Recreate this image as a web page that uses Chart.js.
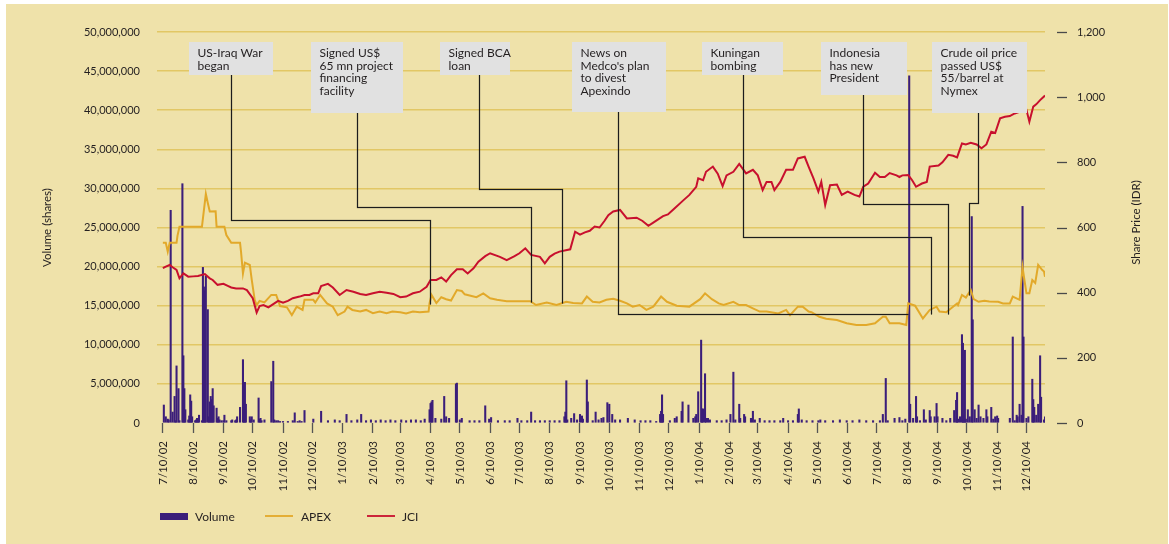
<!DOCTYPE html>
<html>
<head>
<meta charset="utf-8">
<script src="https://cdn.jsdelivr.net/npm/chart.js@4.4.1/dist/chart.umd.min.js"></script>
<style>
html,body{margin:0;padding:0;background:#ffffff;}
#wrap{width:1169px;height:544px;position:relative;}
</style>
</head>
<body>
<div id="wrap"><canvas id="c" width="1169" height="544"></canvas></div>
<script>
// ---- DATA (x = calendar days since 10 Jul 2002) ----
const tickLabels = ['7/10/02','8/10/02','9/10/02','10/10/02','11/10/02','12/10/02',
  '1/10/03','2/10/03','3/10/03','4/10/03','5/10/03','6/10/03','7/10/03','8/10/03','9/10/03','10/10/03','11/10/03','12/10/03',
  '1/10/04','2/10/04','3/10/04','4/10/04','5/10/04','6/10/04','7/10/04','8/10/04','9/10/04','10/10/04','11/10/04','12/10/04'];

const jciDays = [0,3,7,10,14,17,21,26,31,36,43,48,51,56,62,67,70,75,82,86,92,96,99,103,108,113,118,123,128,133,140,145,150,154,159,162,169,174,181,188,195,202,208,215,222,229,236,243,249,256,263,270,274,280,285,290,295,301,307,312,318,323,330,335,345,352,360,365,371,377,386,391,396,401,406,417,422,427,432,437,442,447,452,456,461,468,475,485,491,497,502,512,517,522,533,539,546,548,553,556,563,568,573,577,584,590,597,604,609,614,618,623,626,632,638,645,650,657,661,666,671,674,678,683,690,695,701,708,713,717,722,729,734,739,744,751,754,757,763,767,771,777,782,785,794,798,804,809,813,818,822,827,833,838,843,848,852,857,862,867,872,877,884,887,891,894,898,903];
const jciValues = [475,480,485,478,470,444,459,449,450,451,457,444,439,424,427,420,416,413,413,408,383,339,359,362,355,365,375,369,375,383,388,393,393,398,398,420,427,416,393,408,403,396,393,398,403,400,396,386,388,398,403,418,439,439,447,434,454,472,472,459,475,495,512,521,510,500,512,521,536,516,510,490,510,520,526,533,587,578,585,590,603,600,620,638,649,654,628,630,620,605,615,635,640,654,684,700,725,751,745,771,787,765,727,760,771,795,766,777,760,715,740,740,715,740,777,777,812,817,787,751,710,740,669,730,732,700,710,700,695,725,735,768,755,755,767,760,755,760,761,745,725,735,740,787,790,800,823,820,815,858,855,860,855,843,855,894,890,935,940,942,950,955,961,925,971,978,991,1005];

const apexDays = [0,3,5,7,14,15,17,28,40,44,46,48,54,55,63,65,70,79,80,82,84,89,91,94,96,99,104,111,116,120,127,132,137,143,145,154,156,161,168,174,179,186,189,194,202,208,215,222,229,235,243,249,256,263,272,273,275,280,285,290,295,301,306,309,316,321,328,335,342,352,359,369,376,382,393,403,413,420,429,434,440,447,454,461,468,475,481,488,495,502,510,516,526,539,550,555,562,569,574,584,590,597,604,611,618,630,638,642,650,655,661,664,672,679,690,700,710,720,729,737,740,744,754,761,763,770,778,785,792,795,802,806,813,814,818,822,827,830,835,841,846,855,860,867,870,877,880,884,887,890,893,896,900,902,903];
const apexValues = [553,553,526,553,553,575,602,602,602,703,675,649,650,602,602,577,553,553,526,459,492,485,439,378,362,375,370,393,393,359,355,331,357,347,378,378,370,393,367,357,331,342,357,347,342,347,337,342,337,342,340,336,342,340,342,368,393,368,386,380,376,408,405,395,390,386,398,383,378,374,374,374,374,362,370,362,372,368,367,388,372,370,378,381,375,367,357,362,347,357,388,372,360,357,380,398,380,367,362,372,362,362,352,342,342,336,347,331,357,357,342,340,326,320,316,306,301,301,306,326,326,306,306,301,367,360,321,347,357,342,340,350,367,362,393,385,408,380,372,375,373,372,367,367,388,378,478,398,398,439,430,485,470,465,449];

const volumeDays = [1,3,5,6,8,10,12,13,14,16,17,20,21,22,23,26,27,28,29,30,33,34,35,36,37,40,41,42,43,44,46,47,48,49,50,51,52,55,56,57,58,60,62,63,65,70,71,74,75,76,79,82,83,84,85,89,90,91,93,98,99,100,101,104,111,113,114,116,118,120,123,128,133,135,138,140,142,145,154,162,169,176,181,188,193,199,203,208,213,218,223,228,233,238,244,249,254,259,264,268,273,274,275,276,279,285,288,290,293,300,301,304,306,314,319,324,330,334,336,343,350,355,363,367,373,377,381,386,391,396,401,406,411,412,413,414,418,421,424,427,429,430,434,435,440,443,446,449,451,455,457,460,463,468,476,483,489,494,499,505,509,510,511,512,519,524,526,531,532,538,543,545,546,548,551,552,553,555,556,558,560,567,572,577,581,584,586,590,591,595,596,602,604,606,611,616,621,626,632,635,640,645,650,651,654,659,665,671,673,678,686,693,700,706,713,720,727,734,737,740,742,749,754,757,760,764,765,768,771,772,775,779,781,785,786,790,792,793,798,802,806,810,812,813,814,816,818,819,820,821,822,824,826,828,829,831,833,835,837,840,843,844,848,850,852,854,855,867,870,872,874,875,877,879,880,881,884,886,890,891,892,894,896,898,899,902,903];
const volumeMillions = [2.3,0.8,0.5,0.4,27.2,1.4,3.4,0.3,7.3,4.4,0.3,30.6,8.6,4.4,1.7,0.4,0.9,3.6,2.8,0.8,0.3,0.4,0.6,0.3,1.0,0.3,19.9,17.4,16.9,18.8,14.5,0.8,2.7,3.4,3.0,4.4,2.2,1.9,0.6,0.8,0.4,0.3,0.3,1.0,0.3,0.3,0.4,0.3,0.4,0.8,2.0,8.1,2.4,5.2,2.4,0.8,0.4,0.8,0.4,3.2,0.5,0.6,0.3,0.4,5.3,7.9,0.4,0.3,0.3,0.2,0.2,0.2,0.3,1.3,0.2,0.3,0.2,1.6,0.5,1.5,0.3,0.4,0.3,1.1,0.3,0.4,1.1,0.3,0.4,0.3,0.4,0.3,0.4,0.3,0.4,0.3,0.4,0.4,0.3,0.5,1.7,2.5,2.7,2.9,0.6,0.5,3.4,0.8,0.6,5.0,5.1,0.4,0.6,0.3,0.3,0.3,2.2,0.5,0.7,0.3,0.3,0.3,0.6,0.3,0.3,1.4,0.3,0.3,0.3,0.3,0.3,0.3,0.8,1.4,5.4,0.4,0.6,1.2,0.4,1.1,0.9,0.5,5.5,2.7,0.3,1.4,0.4,0.6,0.7,2.6,2.4,1.1,0.4,0.4,0.6,0.4,0.3,0.3,0.3,0.2,1.1,1.5,3.6,1.1,0.3,0.6,0.8,1.5,2.7,2.3,0.6,0.8,1.1,4.0,10.6,1.8,1.8,6.3,0.6,0.6,0.4,0.3,0.3,0.4,1.1,6.5,0.4,2.4,0.6,1.1,0.8,0.6,1.5,0.4,0.6,0.3,0.3,0.3,0.3,0.6,0.3,0.3,1.1,1.8,0.4,0.3,0.3,0.3,0.4,0.3,0.3,0.4,0.3,0.3,0.4,0.3,0.3,0.3,1.1,5.7,0.3,0.6,0.7,0.3,0.5,44.4,2.4,0.6,3.4,0.8,0.3,1.7,0.4,1.6,0.8,0.8,2.5,0.8,0.6,0.3,0.6,1.6,2.9,3.9,0.5,0.8,11.3,10.2,1.0,9.3,0.5,1.7,0.8,26.4,13.2,1.7,0.6,2.3,0.8,0.6,1.7,0.8,2.0,0.5,0.8,0.9,0.6,0.6,11.0,0.3,1.0,0.8,2.4,1.0,27.7,11.0,0.6,0.8,5.6,3.0,2.0,1.0,2.4,8.6,3.3,0.4,0.8];

// Event call-outs: text, box (layout, px), connector path in [day, share price]
const events = [
  {text:['US-Iraq War','began'], box:[189,42,84,33], path:[[70,623],[273,623],[273,365]]},
  {text:['Signed US$','65 mn project','financing','facility'], box:[311,42,92,71], path:[[199,663],[377,663],[377,371]]},
  {text:['Signed BCA','loan'], box:[440,42,70,33], path:[[324,718],[409,718],[409,368]]},
  {text:['News on',"Medco's plan",'to divest','Apexindo'], box:[572,42,94,70], path:[[466,335],[763,335]]},
  {text:['Kuningan','bombing'], box:[702,42,81,33], path:[[594,572],[786,572],[786,335]]},
  {text:['Indonesia','has new','President'], box:[821,42,86,53], path:[[717,672],[804,672],[804,335]]},
  {text:['Crude oil price','passed US$','55/barrel at','Nymex'], box:[932,42,95,71], path:[[834,674],[825,674],[825,393]]}
];

// ---- derived ----
const baseDate = Date.UTC(2002,6,10);
const tickDays = tickLabels.map(s => { const [m,d,y] = s.split('/').map(Number); return Math.round((Date.UTC(2000+y,m-1,d)-baseDate)/864e5); });
const pts = (xs, ys) => xs.map((x,i) => ({x:x, y:ys[i]}));

const BG = '#EFE2AA', GRID = '#E2C765', INK = '#231F20';
const C_VOL = '#3B1E7A', C_APEX = '#E2A92A', C_JCI = '#C8102E';
const CLEAR = 'rgba(0,0,0,0)';
Chart.defaults.font.family = 'Lato, "Open Sans", sans-serif';
Chart.defaults.color = INK;

const decor = {
  id: 'decor',
  beforeDraw(chart) {
    const ctx = chart.ctx;
    ctx.save();
    ctx.fillStyle = '#ffffff';
    ctx.fillRect(0,0,chart.width,chart.height);
    ctx.fillStyle = BG;
    ctx.fillRect(6,4,1162,540);
    ctx.restore();
  },
  afterDatasetsDraw(chart) {
    const ctx = chart.ctx, xs = chart.scales.x, ys = chart.scales.y1;
    ctx.save();
    // connectors
    events.forEach(ev => {
      const [bx,by,bw,bh] = ev.box;
      ctx.beginPath();
      ctx.moveTo(Math.round(xs.getPixelForValue(ev.path[0][0]))+0.5, by+bh);
      ev.path.forEach(p => ctx.lineTo(Math.round(xs.getPixelForValue(p[0]))+0.5, Math.round(ys.getPixelForValue(p[1]))+0.5));
      ctx.lineJoin = 'miter';
      ctx.strokeStyle = 'rgba(60,60,60,0.55)';
      ctx.lineWidth = 1.3;
      ctx.save(); ctx.translate(1,1); ctx.stroke(); ctx.restore();
      ctx.strokeStyle = '#1c1c1c';
      ctx.lineWidth = 1.1;
      ctx.stroke();
    });
    // boxes + text
    events.forEach(ev => {
      const [bx,by,bw,bh] = ev.box;
      ctx.fillStyle = '#E1E1E1';
      ctx.fillRect(bx,by,bw,bh);
      ctx.fillStyle = INK;
      ctx.font = '12px Lato';
      ctx.textAlign = 'left';
      ctx.textBaseline = 'alphabetic';
      ev.text.forEach((t,i) => ctx.fillText(t, bx+8.5, by+15 + i*12.7));
    });
    // right axis tick dashes
    ctx.strokeStyle = '#4a4a4a';
    ctx.lineWidth = 1.3;
    ys.ticks.forEach(t => {
      const y = Math.round(ys.getPixelForValue(t.value)) + 0.5;
      ctx.beginPath(); ctx.moveTo(1057,y); ctx.lineTo(1067,y); ctx.stroke();
    });
    // right axis title (reads bottom-to-top)
    ctx.save();
    ctx.translate(1136, (chart.chartArea.top+chart.chartArea.bottom)/2 - 5);
    ctx.rotate(-Math.PI/2);
    ctx.font = '11.5px Lato';
    ctx.fillStyle = INK;
    ctx.textAlign = 'center';
    ctx.textBaseline = 'middle';
    ctx.fillText('Share Price (IDR)', 0, 0);
    ctx.restore();
    // legend
    const ly = 516;
    ctx.font = '12px Lato';
    ctx.textBaseline = 'middle';
    ctx.textAlign = 'left';
    ctx.fillStyle = C_VOL;
    ctx.fillRect(160, ly-3, 28, 7);
    ctx.fillStyle = INK;
    ctx.fillText(chart.data.datasets[2].label, 195, ly+1);
    [[265,C_APEX,1,301],[367,C_JCI,0,402]].forEach(([x0,c,di,tx]) => {
      ctx.strokeStyle = c; ctx.lineWidth = 1.8;
      ctx.beginPath(); ctx.moveTo(x0,ly); ctx.lineTo(x0+28,ly); ctx.stroke();
      ctx.fillStyle = INK;
      ctx.fillText(chart.data.datasets[di].label, tx, ly+1);
    });
    ctx.restore();
  }
};

new Chart(document.getElementById('c'), {
  type: 'bar',
  data: {
    datasets: [
      {type:'line', label:'JCI', data: pts(jciDays, jciValues), yAxisID:'y1', borderColor:C_JCI, borderWidth:2, pointRadius:0, tension:0, order:1},
      {type:'line', label:'APEX', data: pts(apexDays, apexValues), yAxisID:'y1', borderColor:C_APEX, borderWidth:2, pointRadius:0, tension:0, order:2},
      {type:'bar', label:'Volume', data: pts(volumeDays, volumeMillions), yAxisID:'y', backgroundColor:C_VOL, borderWidth:0, barThickness:1.4, order:3}
    ]
  },
  options: {
    responsive: false,
    animation: false,
    devicePixelRatio: 1,
    layout: { padding: { left: 0, right: 0, top: 32, bottom: 0 } },
    plugins: { legend: { display: false }, tooltip: { enabled: false } },
    scales: {
      x: {
        type: 'linear', min: -6, max: 903, offset: false,
        afterBuildTicks: s => { s.ticks = tickDays.map(v => ({value: v})); },
        afterFit: s => { s.height = 121; },
        grid: { offset: false, drawOnChartArea: false, drawTicks: true, tickLength: 10, tickColor: '#555', tickWidth: 1.3 },
        border: { display: false },
        ticks: { autoSkip: false, minRotation: 90, maxRotation: 90, padding: 8, font: { size: 11.5 }, color: INK,
                 callback: (v, i) => tickLabels[i] }
      },
      y: {
        position: 'left', min: 0, max: 50,
        afterFit: s => { s.width = 157; },
        grid: { drawTicks: true, tickLength: 17, tickColor: CLEAR, lineWidth: 1.5,
                color: c => (c.tick && c.tick.value === 0) ? CLEAR : GRID },
        border: { display: false },
        ticks: { stepSize: 5, padding: 0, font: { size: 11 }, color: INK,
                 callback: v => (v * 1e6).toLocaleString('en-US') },
        title: { display: true, text: 'Volume (shares)', font: { size: 11.5 }, color: INK, padding: { top: 40 } }
      },
      y1: {
        position: 'right', min: 0, max: 1200,
        afterFit: s => { s.width = 124; },
        grid: { display: true, drawOnChartArea: false, drawTicks: true, tickLength: 32, tickColor: CLEAR },
        border: { display: false },
        ticks: { stepSize: 200, padding: 0, font: { size: 11 }, color: INK,
                 callback: v => v.toLocaleString('en-US') }
      }
    }
  },
  plugins: [decor]
});
</script>
</body>
</html>
